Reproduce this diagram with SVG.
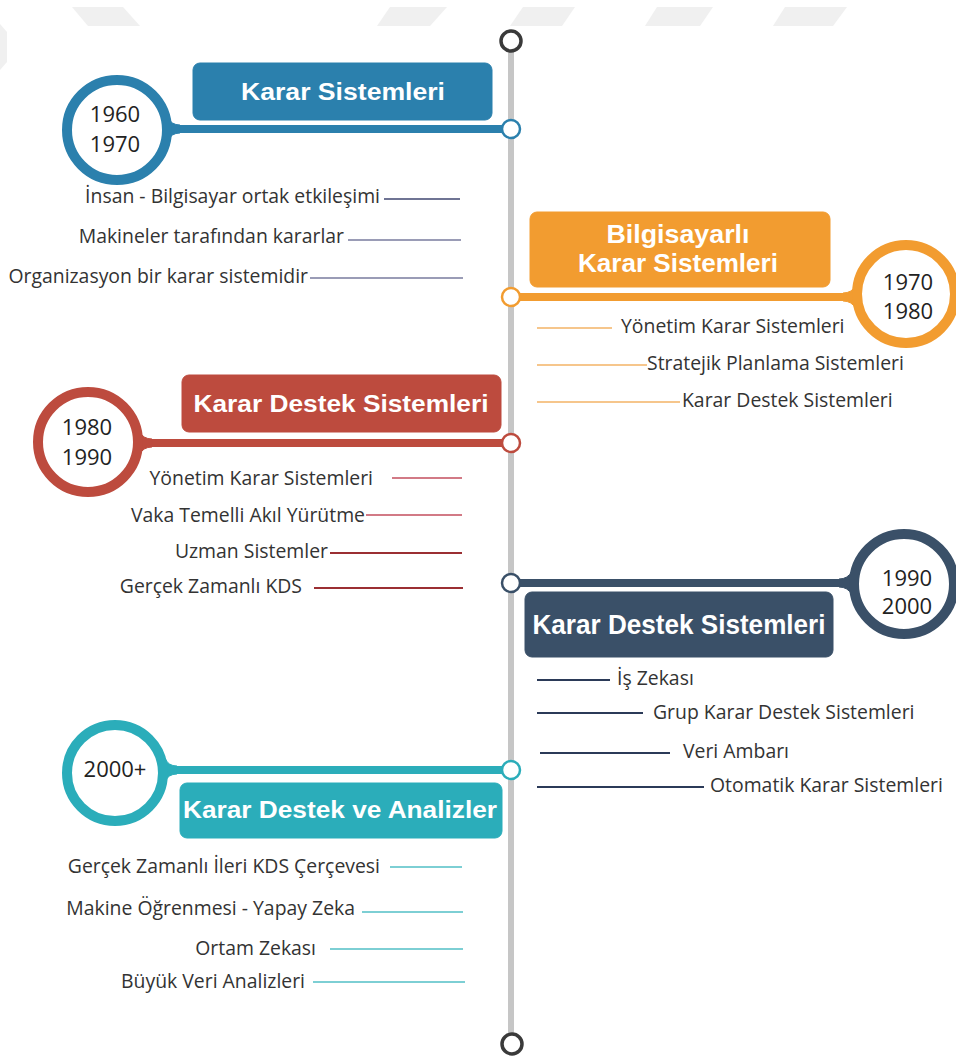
<svg xmlns="http://www.w3.org/2000/svg" width="956" height="1058" viewBox="0 0 956 1058">
  <style>
    .wm { fill: #f0f0f0; }
    .axis { stroke: #c6c6c6; stroke-width: 6; }
    .endcap { fill: #ffffff; stroke: #3a3a3a; stroke-width: 3.5; }
    .item { font-family: "Open Sans", "Noto Sans", sans-serif; font-size: 19.4px; fill: #333333; }
    .year { font-family: "Open Sans", "Noto Sans", sans-serif; font-size: 22px; fill: #222222; text-anchor: middle; }
    .title { font-family: "Liberation Sans", Arial, sans-serif; font-weight: bold; fill: #ffffff; text-anchor: middle; }
    .tick { stroke-width: 2; }
    .ring { fill: #ffffff; stroke-width: 10; }
    .dot { fill: #ffffff; stroke-width: 2.5; }
    .link { stroke-width: 8; }
    .blue { fill: #2b80ad; stroke: #2b80ad; }
    .orange { fill: #f29c30; stroke: #f29c30; }
    .red { fill: #bd4b3e; stroke: #bd4b3e; }
    .slate { fill: #3a5068; stroke: #3a5068; }
    .teal { fill: #2badba; stroke: #2badba; }
  </style>

  <!-- faint banner marks along the top edge -->
  <g id="banner">
    <polygon class="wm" points="72,7 123,7 140,26 88,26"/>
    <polygon class="wm" points="390,7 447,7 430,26 377,26"/>
    <polygon class="wm" points="523,7 575,7 562,26 510,26"/>
    <polygon class="wm" points="657,7 713,7 700,26 645,26"/>
    <polygon class="wm" points="785,7 847,7 833,26 773,26"/>
    <polygon class="wm" points="0,24 7,32 7,62 0,70"/>
  </g>

  <!-- timeline axis -->
  <g id="axis">
    <line class="axis" x1="511" y1="50" x2="511" y2="1034"/>
    <circle class="endcap" cx="511" cy="41" r="10"/>
    <circle class="endcap" cx="512" cy="1044" r="10"/>
  </g>

  <!-- connectors from each era badge to the axis -->
  <g id="connectors">
    <line class="link blue" x1="160" y1="129" x2="505" y2="129"/>
    <path class="blue" stroke="none" d="M168,117 Q171,125 180,125 L180,133 Q171,133 168,141 Z"/>
    <line class="link orange" x1="515" y1="297" x2="860" y2="297"/>
    <path class="orange" stroke="none" d="M856,285 Q852,293 843,293 L843,301 Q852,301 856,309 Z"/>
    <line class="link red" x1="135" y1="443" x2="505" y2="443"/>
    <path class="red" stroke="none" d="M139,431 Q143,439 152,439 L152,447 Q143,447 139,455 Z"/>
    <line class="link slate" x1="515" y1="583" x2="855" y2="583"/>
    <path class="slate" stroke="none" d="M852,571 Q848,579 839,579 L839,587 Q848,587 852,595 Z"/>
    <line class="link teal" x1="160" y1="770" x2="505" y2="770"/>
    <path class="teal" stroke="none" d="M165,758 Q168,766 177,766 L177,774 Q168,774 165,782 Z"/>
    <circle class="dot blue" style="fill:#fff" cx="511" cy="129" r="9"/>
    <circle class="dot orange" style="fill:#fff" cx="511" cy="297" r="9"/>
    <circle class="dot red" style="fill:#fff" cx="511" cy="443" r="9"/>
    <circle class="dot slate" style="fill:#fff" cx="511" cy="583" r="9"/>
    <circle class="dot teal" style="fill:#fff" cx="511" cy="770" r="9"/>
  </g>

  <!-- 1960-1970 -->
  <g id="era-1960">
    <rect class="blue" stroke="none" x="193" y="63" width="299" height="57" rx="7"/>
    <text class="title" x="343" y="100" font-size="24" textLength="204" lengthAdjust="spacingAndGlyphs">Karar Sistemleri</text>
    <circle class="ring blue" style="fill:#fff" cx="117" cy="130" r="50"/>
    <text class="year" x="115" y="122">1960</text>
    <text class="year" x="115" y="152">1970</text>
  </g>
  <g id="items-1960">
    <text class="item" x="380" y="203" text-anchor="end">İnsan - Bilgisayar ortak etkileşimi</text>
    <line class="tick" stroke="#6f7494" x1="384" y1="199" x2="460" y2="199"/>
    <text class="item" x="344" y="243" text-anchor="end">Makineler tarafından kararlar</text>
    <line class="tick" stroke="#9a9cb6" x1="348" y1="240" x2="461" y2="240"/>
    <text class="item" x="308" y="283" text-anchor="end">Organizasyon bir karar sistemidir</text>
    <line class="tick" stroke="#9a9cb6" x1="310" y1="278" x2="463" y2="278"/>
  </g>

  <!-- 1970-1980 -->
  <g id="era-1970">
    <rect class="orange" stroke="none" x="530" y="212" width="300" height="75" rx="7"/>
    <text class="title" x="678" y="243" font-size="25" textLength="143" lengthAdjust="spacingAndGlyphs">Bilgisayarlı</text>
    <text class="title" x="678" y="272" font-size="25" textLength="200" lengthAdjust="spacingAndGlyphs">Karar Sistemleri</text>
    <circle class="ring orange" style="fill:#fff" cx="906" cy="294" r="49"/>
    <text class="year" x="908" y="290">1970</text>
    <text class="year" x="908" y="319">1980</text>
  </g>
  <g id="items-1970">
    <line class="tick" stroke="#f6c68c" x1="537" y1="328" x2="612" y2="328"/>
    <text class="item" x="621" y="333">Yönetim Karar Sistemleri</text>
    <line class="tick" stroke="#f6c68c" x1="537" y1="365" x2="647" y2="365"/>
    <text class="item" x="647" y="370">Stratejik Planlama Sistemleri</text>
    <line class="tick" stroke="#f6c68c" x1="537" y1="402" x2="680" y2="402"/>
    <text class="item" x="682" y="407">Karar Destek Sistemleri</text>
  </g>

  <!-- 1980-1990 -->
  <g id="era-1980">
    <rect class="red" stroke="none" x="182" y="375" width="319" height="57" rx="7"/>
    <text class="title" x="341" y="412" font-size="23" textLength="295" lengthAdjust="spacingAndGlyphs">Karar Destek Sistemleri</text>
    <circle class="ring red" style="fill:#fff" cx="88" cy="442" r="50"/>
    <text class="year" x="87" y="435">1980</text>
    <text class="year" x="87" y="465">1990</text>
  </g>
  <g id="items-1980">
    <text class="item" x="373" y="485" text-anchor="end">Yönetim Karar Sistemleri</text>
    <line class="tick" stroke="#d27a86" x1="392" y1="478" x2="462" y2="478"/>
    <text class="item" x="365" y="522" text-anchor="end">Vaka Temelli Akıl Yürütme</text>
    <line class="tick" stroke="#d27a86" x1="366" y1="515" x2="462" y2="515"/>
    <text class="item" x="328" y="558" text-anchor="end">Uzman Sistemler</text>
    <line class="tick" stroke="#9b2f33" x1="330" y1="553" x2="462" y2="553"/>
    <text class="item" x="302" y="593" text-anchor="end">Gerçek Zamanlı KDS</text>
    <line class="tick" stroke="#9b2f33" x1="314" y1="588" x2="463" y2="588"/>
  </g>

  <!-- 1990-2000 -->
  <g id="era-1990">
    <rect class="slate" stroke="none" x="525" y="592" width="308" height="65" rx="7"/>
    <text class="title" x="679" y="634" font-size="28" textLength="293" lengthAdjust="spacingAndGlyphs">Karar Destek Sistemleri</text>
    <circle class="ring slate" style="fill:#fff" cx="904" cy="584" r="50"/>
    <text class="year" x="907" y="586" font-size="23">1990</text>
    <text class="year" x="907" y="614" font-size="23">2000</text>
  </g>
  <g id="items-1990">
    <line class="tick" stroke="#2b3a58" x1="537" y1="680" x2="610" y2="680"/>
    <text class="item" x="617" y="685">İş Zekası</text>
    <line class="tick" stroke="#2b3a58" x1="537" y1="713" x2="643" y2="713"/>
    <text class="item" x="653" y="719">Grup Karar Destek Sistemleri</text>
    <line class="tick" stroke="#2b3a58" x1="540" y1="753" x2="670" y2="753"/>
    <text class="item" x="683" y="758">Veri Ambarı</text>
    <line class="tick" stroke="#2b3a58" x1="537" y1="787" x2="704" y2="787"/>
    <text class="item" x="710" y="792">Otomatik Karar Sistemleri</text>
  </g>

  <!-- 2000+ -->
  <g id="era-2000">
    <rect class="teal" stroke="none" x="180" y="783" width="322" height="55" rx="7"/>
    <text class="title" x="340" y="818" font-size="23" textLength="314" lengthAdjust="spacingAndGlyphs">Karar Destek ve Analizler</text>
    <circle class="ring teal" style="fill:#fff" cx="115" cy="773" r="48"/>
    <text class="year" x="115" y="777">2000+</text>
  </g>
  <g id="items-2000">
    <text class="item" x="380" y="873" text-anchor="end">Gerçek Zamanlı İleri KDS Çerçevesi</text>
    <line class="tick" stroke="#7dcfd4" x1="390" y1="867" x2="462" y2="867"/>
    <text class="item" x="355" y="915" text-anchor="end">Makine Öğrenmesi - Yapay Zeka</text>
    <line class="tick" stroke="#7dcfd4" x1="362" y1="912" x2="463" y2="912"/>
    <text class="item" x="316" y="955" text-anchor="end">Ortam Zekası</text>
    <line class="tick" stroke="#7dcfd4" x1="330" y1="949" x2="463" y2="949"/>
    <text class="item" x="305" y="988" text-anchor="end">Büyük Veri Analizleri</text>
    <line class="tick" stroke="#7dcfd4" x1="313" y1="982" x2="465" y2="982"/>
  </g>
</svg>
